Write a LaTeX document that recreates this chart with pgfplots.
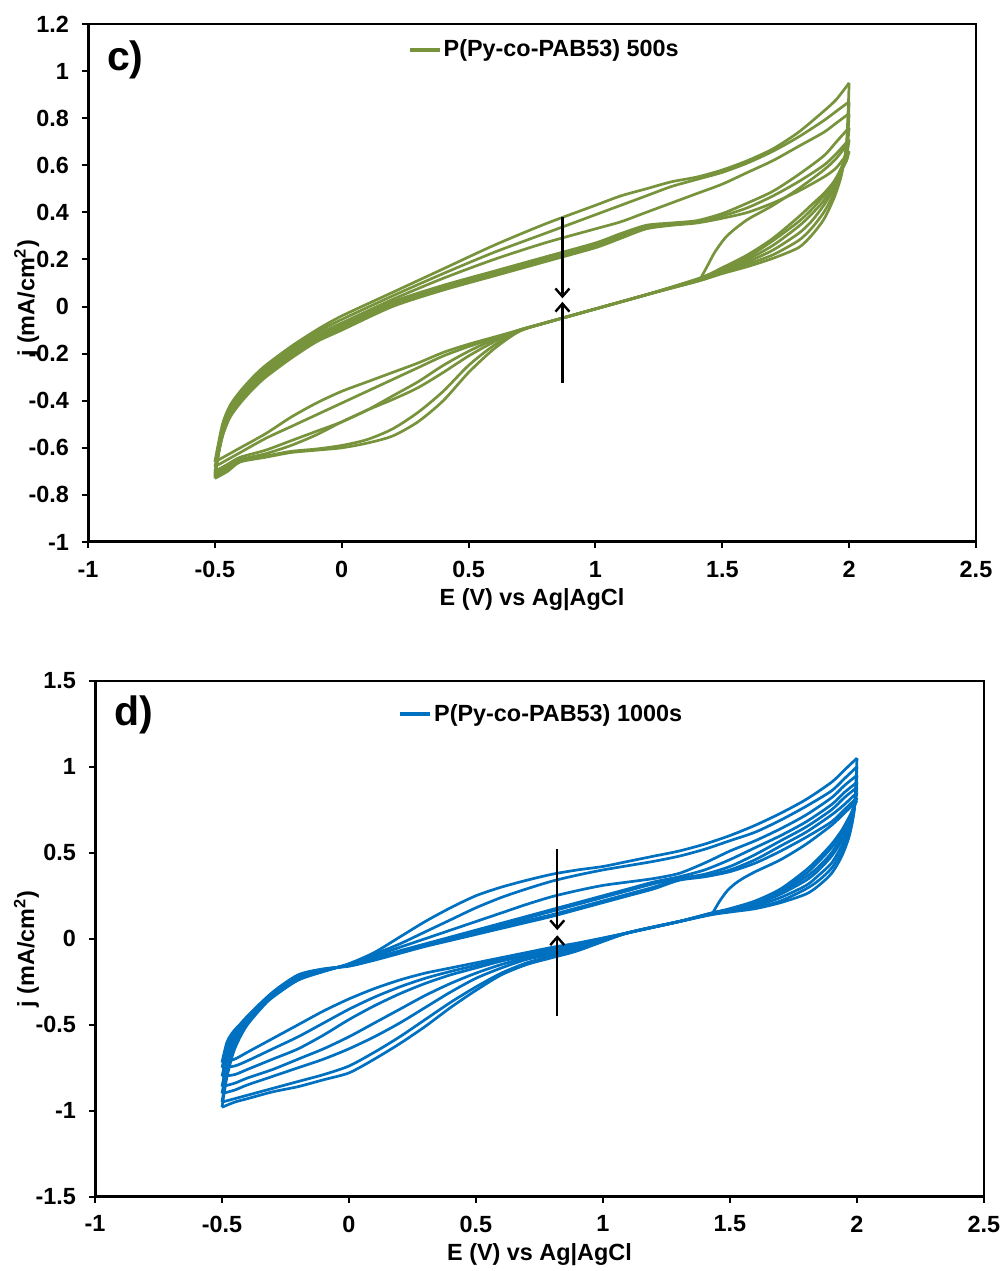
\documentclass[border=0pt]{standalone}
\usepackage{fontspec}
\setmainfont{Liberation Sans}
\usepackage{pgfplots}
\pgfplotsset{compat=1.18}
\usetikzlibrary{arrows.meta}
\definecolor{cgreen}{HTML}{77933C}
\definecolor{cblue}{HTML}{0070C0}
\newcommand{\tf}{\fontsize{11.7}{13}\selectfont\bfseries}
\pgfplotsset{
 cvstyle/.style={
  scale only axis, tick align=outside, tick pos=left, major tick length=3pt,
  tick style={black, line width=1pt},
  axis line style={line width=1pt},
  /pgf/number format/assume math mode=true,
  ticklabel style={font=\tf},
  xticklabel style={yshift=-3pt},
  yticklabel style={xshift=-3pt},
  label style={font=\tf},
  xtick={-1,-0.5,0,0.5,1,1.5,2,2.5},
  xmin=-1, xmax=2.5,
  legend style={draw=none, fill=none, inner sep=0pt, font=\tf, anchor=west, nodes={inner sep=1pt}},
  legend image code/.code={\draw[##1] (0pt,0pt) -- (15pt,0pt);},
 },
 cv/.style={line width=1.35pt, smooth, tension=0.45, forget plot},
}
\begin{document}
\begin{tikzpicture}
\useasboundingbox (0,0) rectangle (501pt,-635.5pt);
% ---------------- panel c ----------------
\begin{axis}[cvstyle, at={(44pt,-271pt)}, anchor=south west, width=444pt, height=259pt,
  ymin=-1, ymax=1.2, ytick={-1,-0.8,-0.6,-0.4,-0.2,0,0.2,0.4,0.6,0.8,1,1.2},
  xlabel={E (V) vs Ag|AgCl}, ylabel={j (mA/cm\textsuperscript{2})},
  xlabel style={at={(axis description cs:0.5,-0.112)}, anchor=center},
  ylabel style={at={(axis description cs:-0.069,0.47)}, anchor=center},
  legend style={at={(0.36,0.95)}}]
\addlegendimage{cgreen, line width=1.8pt}
\addlegendentry{P(Py-co-PAB53) 500s}
% forward sweeps
\addplot[cv, cgreen] coordinates {(-0.5,-0.66) (-0.47,-0.50) (-0.44,-0.42) (-0.4,-0.36) (-0.35,-0.30) (-0.3,-0.25) (-0.2,-0.17) (-0.1,-0.10) (0,-0.04) (0.2,0.06) (0.4,0.16) (0.6,0.26) (0.8,0.35) (1.0,0.43) (1.1,0.47) (1.2,0.50) (1.3,0.53) (1.4,0.55) (1.5,0.58) (1.6,0.62) (1.7,0.67) (1.8,0.74) (1.9,0.83) (1.95,0.88) (2.0,0.95)};
\addplot[cv, cgreen] coordinates {(-0.5,-0.73) (-0.47,-0.52) (-0.44,-0.43) (-0.4,-0.37) (-0.35,-0.31) (-0.3,-0.26) (-0.2,-0.18) (-0.1,-0.11) (0,-0.055) (0.2,0.045) (0.4,0.14) (0.6,0.23) (0.8,0.31) (1.0,0.39) (1.1,0.43) (1.2,0.47) (1.3,0.51) (1.4,0.54) (1.5,0.57) (1.6,0.61) (1.7,0.66) (1.8,0.72) (1.9,0.79) (1.95,0.83) (2.0,0.87)};
\addplot[cv, cgreen] coordinates {(-0.5,-0.72) (-0.47,-0.53) (-0.44,-0.44) (-0.4,-0.38) (-0.35,-0.32) (-0.3,-0.27) (-0.2,-0.19) (-0.1,-0.12) (0,-0.07) (0.2,0.03) (0.4,0.12) (0.6,0.20) (0.8,0.27) (1.0,0.33) (1.1,0.36) (1.2,0.40) (1.3,0.44) (1.4,0.48) (1.5,0.52) (1.6,0.57) (1.7,0.62) (1.8,0.68) (1.9,0.74) (1.95,0.78) (2.0,0.82)};
\addplot[cv, cgreen] coordinates {(-0.5,-0.71) (-0.47,-0.54) (-0.44,-0.45) (-0.4,-0.39) (-0.35,-0.33) (-0.3,-0.28) (-0.2,-0.20) (-0.1,-0.13) (0,-0.08) (0.2,0.02) (0.4,0.09) (0.6,0.15) (0.8,0.21) (1.0,0.27) (1.1,0.31) (1.2,0.345) (1.3,0.355) (1.4,0.365) (1.5,0.395) (1.6,0.44) (1.7,0.49) (1.8,0.56) (1.9,0.64) (1.95,0.70) (2.0,0.76)};
\addplot[cv, cgreen] coordinates {(-0.5,-0.70) (-0.47,-0.55) (-0.44,-0.46) (-0.4,-0.40) (-0.35,-0.34) (-0.3,-0.29) (-0.2,-0.21) (-0.1,-0.14) (0,-0.09) (0.2,0.01) (0.4,0.08) (0.6,0.14) (0.8,0.20) (1.0,0.26) (1.1,0.30) (1.2,0.34) (1.3,0.35) (1.4,0.36) (1.5,0.385) (1.6,0.42) (1.7,0.47) (1.8,0.53) (1.9,0.60) (1.95,0.65) (2.0,0.71)};
\addplot[cv, cgreen] coordinates {(-0.5,-0.68) (-0.47,-0.55) (-0.44,-0.47) (-0.4,-0.41) (-0.35,-0.35) (-0.3,-0.30) (-0.2,-0.22) (-0.1,-0.15) (0,-0.10) (0.2,0.00) (0.4,0.07) (0.6,0.13) (0.8,0.19) (1.0,0.25) (1.1,0.29) (1.2,0.33) (1.3,0.345) (1.4,0.355) (1.5,0.375) (1.6,0.40) (1.7,0.44) (1.8,0.49) (1.9,0.55) (1.95,0.59) (2.0,0.66)};
% nucleation branch
\addplot[cv, cgreen] coordinates {(1.41,0.11) (1.44,0.17) (1.47,0.23) (1.51,0.29) (1.55,0.33) (1.6,0.37) (1.65,0.40) (1.7,0.43) (1.8,0.50) (1.9,0.58) (1.95,0.63) (2.0,0.70)};
% reverse sweeps
\addplot[cv, cgreen] coordinates {(2.0,0.95) (1.99,0.70) (1.97,0.56) (1.94,0.46) (1.9,0.37) (1.85,0.30) (1.8,0.25) (1.7,0.205) (1.6,0.17) (1.5,0.14) (1.41,0.11) (1.2,0.05) (1.0,-0.01) (0.8,-0.07) (0.7,-0.105) (0.6,-0.18) (0.5,-0.28) (0.4,-0.40) (0.3,-0.49) (0.2,-0.55) (0.1,-0.58) (0,-0.60) (-0.1,-0.61) (-0.2,-0.62) (-0.3,-0.64) (-0.4,-0.66) (-0.45,-0.70) (-0.5,-0.73)};
\addplot[cv, cgreen] coordinates {(2.0,0.87) (1.99,0.68) (1.97,0.57) (1.94,0.48) (1.9,0.40) (1.85,0.33) (1.8,0.28) (1.7,0.22) (1.6,0.18) (1.5,0.145) (1.41,0.11) (1.2,0.05) (1.0,-0.01) (0.8,-0.07) (0.7,-0.105) (0.6,-0.165) (0.5,-0.25) (0.4,-0.36) (0.3,-0.45) (0.2,-0.52) (0.1,-0.565) (0,-0.59) (-0.1,-0.605) (-0.2,-0.615) (-0.3,-0.635) (-0.4,-0.655) (-0.45,-0.69) (-0.5,-0.72)};
\addplot[cv, cgreen] coordinates {(2.0,0.82) (1.99,0.67) (1.97,0.58) (1.94,0.50) (1.9,0.43) (1.85,0.36) (1.8,0.31) (1.7,0.24) (1.6,0.19) (1.5,0.15) (1.41,0.115) (1.2,0.05) (1.0,-0.01) (0.8,-0.07) (0.7,-0.10) (0.6,-0.15) (0.5,-0.21) (0.4,-0.28) (0.3,-0.345) (0.2,-0.395) (0.1,-0.44) (0,-0.49) (-0.1,-0.545) (-0.2,-0.59) (-0.3,-0.625) (-0.4,-0.65) (-0.45,-0.68) (-0.5,-0.71)};
\addplot[cv, cgreen] coordinates {(2.0,0.76) (1.99,0.66) (1.97,0.59) (1.94,0.52) (1.9,0.45) (1.85,0.39) (1.8,0.34) (1.7,0.26) (1.6,0.20) (1.5,0.155) (1.41,0.115) (1.2,0.05) (1.0,-0.01) (0.8,-0.07) (0.7,-0.10) (0.6,-0.14) (0.5,-0.19) (0.4,-0.25) (0.3,-0.32) (0.2,-0.38) (0.1,-0.44) (0,-0.49) (-0.1,-0.53) (-0.2,-0.57) (-0.3,-0.61) (-0.4,-0.64) (-0.45,-0.67) (-0.5,-0.70)};
\addplot[cv, cgreen] coordinates {(2.0,0.71) (1.99,0.64) (1.97,0.59) (1.94,0.53) (1.9,0.47) (1.85,0.41) (1.8,0.36) (1.7,0.28) (1.6,0.21) (1.5,0.16) (1.41,0.12) (1.2,0.05) (1.0,-0.01) (0.8,-0.07) (0.7,-0.10) (0.6,-0.135) (0.5,-0.17) (0.4,-0.21) (0.3,-0.26) (0.2,-0.31) (0.1,-0.36) (0,-0.41) (-0.1,-0.46) (-0.2,-0.51) (-0.3,-0.56) (-0.4,-0.62) (-0.45,-0.65) (-0.5,-0.68)};
\addplot[cv, cgreen] coordinates {(2.0,0.66) (1.99,0.62) (1.97,0.58) (1.94,0.53) (1.9,0.48) (1.85,0.43) (1.8,0.38) (1.7,0.29) (1.6,0.22) (1.5,0.165) (1.41,0.12) (1.2,0.05) (1.0,-0.01) (0.8,-0.07) (0.7,-0.10) (0.6,-0.13) (0.5,-0.16) (0.4,-0.195) (0.3,-0.24) (0.2,-0.28) (0.1,-0.32) (0,-0.36) (-0.1,-0.41) (-0.2,-0.47) (-0.3,-0.54) (-0.4,-0.60) (-0.45,-0.63) (-0.5,-0.66)};
% frame and annotations
\draw[line width=1pt] (rel axis cs:0,1) -- (rel axis cs:1,1) -- (rel axis cs:1,0);
\draw[line width=1.6pt] (rel axis cs:0,1) -- (rel axis cs:0,0) -- (rel axis cs:1,0);
\draw[line width=1.2pt, -{Straight Barb[length=4pt,width=7pt]}] (axis cs:0.87,0.38) -- (axis cs:0.87,0.035);
\draw[line width=1.2pt, -{Straight Barb[length=4pt,width=7pt]}] (axis cs:0.87,-0.325) -- (axis cs:0.87,0.02);
\node[anchor=west, font=\fontsize{20.5}{22}\selectfont\bfseries] at (rel axis cs:0.0135,0.93) {c)};
\end{axis}
% ---------------- panel d ----------------
\begin{axis}[cvstyle, at={(47.5pt,-598.35pt)}, anchor=south west, width=444.5pt, height=258pt,
  ymin=-1.5, ymax=1.5, ytick={-1.5,-1,-0.5,0,0.5,1,1.5},
  xlabel={E (V) vs Ag|AgCl}, ylabel={j (mA/cm\textsuperscript{2})},
  xlabel style={at={(axis description cs:0.5,-0.113)}, anchor=center},
  ylabel style={at={(axis description cs:-0.077,0.48)}, anchor=center},
  legend style={at={(0.341,0.935)}}]
\addlegendimage{cblue, line width=1.8pt}
\addlegendentry{P(Py-co-PAB53) 1000s}
% forward sweeps
\addplot[cv, cblue] coordinates {(-0.5,-0.72) (-0.48,-0.60) (-0.45,-0.53) (-0.4,-0.46) (-0.3,-0.34) (-0.2,-0.24) (-0.1,-0.19) (0,-0.145) (0.1,-0.08) (0.2,0.01) (0.3,0.10) (0.4,0.18) (0.5,0.25) (0.6,0.30) (0.7,0.34) (0.8,0.375) (0.9,0.40) (1.0,0.42) (1.1,0.45) (1.2,0.48) (1.3,0.51) (1.4,0.55) (1.5,0.60) (1.6,0.66) (1.7,0.73) (1.8,0.81) (1.9,0.91) (1.95,0.98) (2.0,1.05)};
\addplot[cv, cblue] coordinates {(-0.5,-0.98) (-0.48,-0.80) (-0.45,-0.64) (-0.4,-0.50) (-0.3,-0.335) (-0.2,-0.24) (-0.1,-0.19) (0,-0.148) (0.1,-0.09) (0.2,-0.03) (0.3,0.04) (0.4,0.11) (0.5,0.18) (0.6,0.24) (0.7,0.29) (0.8,0.335) (0.9,0.37) (1.0,0.40) (1.1,0.425) (1.2,0.45) (1.3,0.48) (1.4,0.52) (1.5,0.57) (1.6,0.62) (1.7,0.69) (1.8,0.77) (1.9,0.86) (1.95,0.93) (2.0,1.00)};
\addplot[cv, cblue] coordinates {(-0.5,-0.95) (-0.48,-0.78) (-0.45,-0.62) (-0.4,-0.49) (-0.3,-0.33) (-0.2,-0.235) (-0.1,-0.186) (0,-0.15) (0.1,-0.10) (0.2,-0.05) (0.3,0.00) (0.4,0.05) (0.5,0.10) (0.6,0.15) (0.7,0.20) (0.8,0.245) (0.9,0.28) (1.0,0.31) (1.1,0.33) (1.2,0.35) (1.3,0.38) (1.4,0.44) (1.5,0.51) (1.6,0.57) (1.7,0.64) (1.8,0.72) (1.9,0.82) (1.95,0.89) (2.0,0.95)};
\addplot[cv, cblue] coordinates {(-0.5,-0.90) (-0.48,-0.75) (-0.45,-0.60) (-0.4,-0.48) (-0.3,-0.325) (-0.2,-0.23) (-0.1,-0.184) (0,-0.152) (0.1,-0.11) (0.2,-0.07) (0.3,-0.03) (0.4,0.01) (0.5,0.05) (0.6,0.09) (0.7,0.13) (0.8,0.17) (0.9,0.21) (1.0,0.25) (1.1,0.29) (1.2,0.33) (1.3,0.36) (1.4,0.40) (1.5,0.46) (1.6,0.53) (1.7,0.60) (1.8,0.68) (1.9,0.78) (1.95,0.85) (2.0,0.91)};
\addplot[cv, cblue] coordinates {(-0.5,-0.86) (-0.48,-0.72) (-0.45,-0.58) (-0.4,-0.47) (-0.3,-0.32) (-0.2,-0.225) (-0.1,-0.18) (0,-0.155) (0.1,-0.115) (0.2,-0.075) (0.3,-0.035) (0.4,0.00) (0.5,0.04) (0.6,0.08) (0.7,0.12) (0.8,0.16) (0.9,0.20) (1.0,0.24) (1.1,0.28) (1.2,0.32) (1.3,0.35) (1.4,0.375) (1.5,0.42) (1.6,0.49) (1.7,0.57) (1.8,0.65) (1.9,0.75) (1.95,0.82) (2.0,0.88)};
\addplot[cv, cblue] coordinates {(-0.5,-0.80) (-0.48,-0.68) (-0.45,-0.56) (-0.4,-0.46) (-0.3,-0.315) (-0.2,-0.22) (-0.1,-0.178) (0,-0.157) (0.1,-0.12) (0.2,-0.08) (0.3,-0.04) (0.4,-0.005) (0.5,0.03) (0.6,0.07) (0.7,0.105) (0.8,0.14) (0.9,0.18) (1.0,0.22) (1.1,0.26) (1.2,0.30) (1.3,0.345) (1.4,0.365) (1.5,0.40) (1.6,0.46) (1.7,0.54) (1.8,0.62) (1.9,0.72) (1.95,0.78) (2.0,0.85)};
\addplot[cv, cblue] coordinates {(-0.5,-0.75) (-0.48,-0.64) (-0.45,-0.54) (-0.4,-0.45) (-0.3,-0.31) (-0.2,-0.21) (-0.1,-0.175) (0,-0.16) (0.1,-0.125) (0.2,-0.085) (0.3,-0.045) (0.4,-0.01) (0.5,0.025) (0.6,0.06) (0.7,0.095) (0.8,0.13) (0.9,0.17) (1.0,0.21) (1.1,0.25) (1.2,0.29) (1.3,0.34) (1.4,0.36) (1.5,0.39) (1.6,0.44) (1.7,0.51) (1.8,0.59) (1.9,0.68) (1.95,0.75) (2.0,0.82)};
% nucleation branch
\addplot[cv, cblue] coordinates {(1.43,0.145) (1.46,0.22) (1.49,0.28) (1.52,0.32) (1.55,0.35) (1.6,0.39) (1.7,0.46) (1.8,0.55) (1.9,0.66) (1.95,0.73) (2.0,0.80)};
% reverse sweeps
\addplot[cv, cblue] coordinates {(2.0,1.05) (1.99,0.76) (1.97,0.60) (1.94,0.48) (1.9,0.38) (1.85,0.31) (1.8,0.26) (1.7,0.21) (1.6,0.175) (1.5,0.155) (1.43,0.14) (1.3,0.10) (1.1,0.035) (0.9,-0.07) (0.8,-0.11) (0.7,-0.15) (0.6,-0.21) (0.5,-0.30) (0.4,-0.40) (0.3,-0.51) (0.2,-0.61) (0.1,-0.70) (0,-0.78) (-0.1,-0.82) (-0.2,-0.86) (-0.3,-0.89) (-0.4,-0.93) (-0.45,-0.95) (-0.5,-0.98)};
\addplot[cv, cblue] coordinates {(2.0,1.00) (1.99,0.76) (1.97,0.62) (1.94,0.51) (1.9,0.41) (1.85,0.34) (1.8,0.29) (1.7,0.22) (1.6,0.18) (1.5,0.16) (1.43,0.145) (1.3,0.10) (1.1,0.035) (0.9,-0.06) (0.8,-0.10) (0.7,-0.14) (0.6,-0.20) (0.5,-0.28) (0.4,-0.37) (0.3,-0.47) (0.2,-0.57) (0.1,-0.66) (0,-0.74) (-0.1,-0.79) (-0.2,-0.83) (-0.3,-0.87) (-0.4,-0.91) (-0.45,-0.93) (-0.5,-0.95)};
\addplot[cv, cblue] coordinates {(2.0,0.95) (1.99,0.77) (1.97,0.64) (1.94,0.54) (1.9,0.44) (1.85,0.37) (1.8,0.31) (1.7,0.24) (1.6,0.19) (1.5,0.16) (1.43,0.145) (1.3,0.10) (1.1,0.035) (0.9,-0.05) (0.8,-0.09) (0.7,-0.12) (0.6,-0.17) (0.5,-0.23) (0.4,-0.31) (0.3,-0.40) (0.2,-0.49) (0.1,-0.57) (0,-0.64) (-0.1,-0.70) (-0.2,-0.75) (-0.3,-0.80) (-0.4,-0.85) (-0.45,-0.88) (-0.5,-0.90)};
\addplot[cv, cblue] coordinates {(2.0,0.91) (1.99,0.77) (1.97,0.66) (1.94,0.57) (1.9,0.48) (1.85,0.40) (1.8,0.34) (1.7,0.26) (1.6,0.20) (1.5,0.165) (1.43,0.145) (1.3,0.10) (1.1,0.035) (0.9,-0.04) (0.8,-0.08) (0.7,-0.11) (0.6,-0.15) (0.5,-0.20) (0.4,-0.26) (0.3,-0.33) (0.2,-0.41) (0.1,-0.49) (0,-0.57) (-0.1,-0.64) (-0.2,-0.70) (-0.3,-0.76) (-0.4,-0.81) (-0.45,-0.84) (-0.5,-0.86)};
\addplot[cv, cblue] coordinates {(2.0,0.88) (1.99,0.78) (1.97,0.68) (1.94,0.59) (1.9,0.50) (1.85,0.42) (1.8,0.36) (1.7,0.27) (1.6,0.21) (1.5,0.17) (1.43,0.15) (1.3,0.10) (1.1,0.035) (0.9,-0.035) (0.8,-0.07) (0.7,-0.10) (0.6,-0.13) (0.5,-0.17) (0.4,-0.21) (0.3,-0.26) (0.2,-0.32) (0.1,-0.39) (0,-0.47) (-0.1,-0.56) (-0.2,-0.64) (-0.3,-0.70) (-0.4,-0.76) (-0.45,-0.79) (-0.5,-0.80)};
\addplot[cv, cblue] coordinates {(2.0,0.85) (1.99,0.78) (1.97,0.70) (1.94,0.61) (1.9,0.53) (1.85,0.45) (1.8,0.38) (1.7,0.28) (1.6,0.215) (1.5,0.17) (1.43,0.15) (1.3,0.10) (1.1,0.035) (0.9,-0.03) (0.8,-0.06) (0.7,-0.09) (0.6,-0.12) (0.5,-0.155) (0.4,-0.19) (0.3,-0.23) (0.2,-0.28) (0.1,-0.34) (0,-0.41) (-0.1,-0.49) (-0.2,-0.57) (-0.3,-0.64) (-0.4,-0.71) (-0.45,-0.74) (-0.5,-0.75)};
\addplot[cv, cblue] coordinates {(2.0,0.82) (1.99,0.77) (1.97,0.71) (1.94,0.63) (1.9,0.55) (1.85,0.47) (1.8,0.40) (1.7,0.29) (1.6,0.22) (1.5,0.175) (1.43,0.15) (1.3,0.10) (1.1,0.035) (0.9,-0.025) (0.8,-0.05) (0.7,-0.08) (0.6,-0.11) (0.5,-0.14) (0.4,-0.17) (0.3,-0.20) (0.2,-0.24) (0.1,-0.29) (0,-0.35) (-0.1,-0.42) (-0.2,-0.50) (-0.3,-0.58) (-0.4,-0.66) (-0.45,-0.70) (-0.5,-0.72)};
% frame and annotations
\draw[line width=1pt] (rel axis cs:0,1) -- (rel axis cs:1,1) -- (rel axis cs:1,0);
\draw[line width=1.6pt] (rel axis cs:0,1) -- (rel axis cs:0,0) -- (rel axis cs:1,0);
\draw[line width=1.2pt, -{Straight Barb[length=4pt,width=7pt]}] (axis cs:0.82,0.52) -- (axis cs:0.82,0.05);
\draw[line width=1.2pt, -{Straight Barb[length=4pt,width=7pt]}] (axis cs:0.82,-0.45) -- (axis cs:0.82,0.02);
\node[anchor=west, font=\fontsize{20.5}{22}\selectfont\bfseries] at (rel axis cs:0.0135,0.933) {d)};
\end{axis}
\end{tikzpicture}
\end{document}
